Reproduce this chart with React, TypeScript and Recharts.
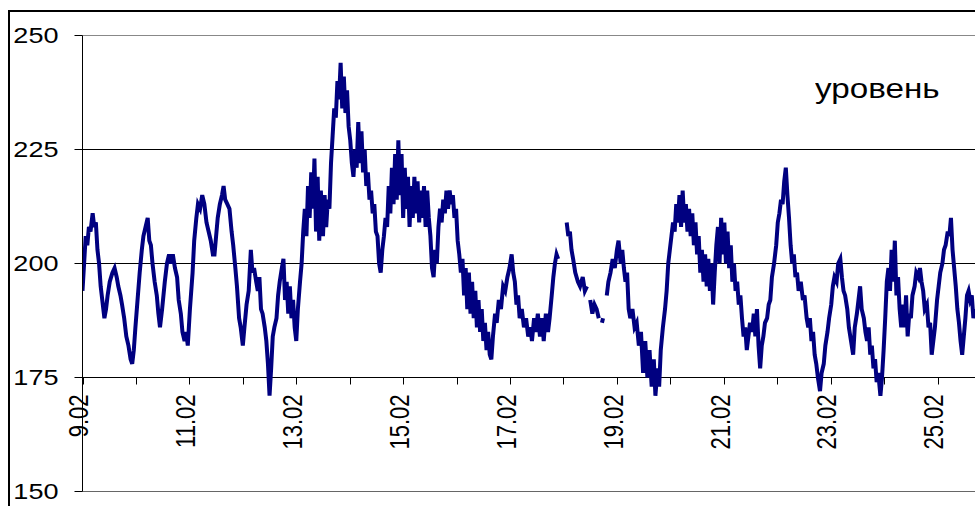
import React from 'react';
import { LineChart, Line, XAxis, YAxis, CartesianGrid, ReferenceLine, Legend } from 'recharts';

// time in days since 9.02 00:00
const days: number[] = [
  0.00, 0.03, 0.06, 0.09, 0.12, 0.15, 0.19, 0.22, 0.25, 0.28, 0.31, 0.34, 0.37, 0.41, 0.44, 0.47, 0.51, 0.56, 0.60, 0.64, 0.67, 0.71, 0.74, 0.78, 0.82, 0.86, 0.90, 0.93, 0.96, 0.99,
  1.03, 1.07, 1.11, 1.14, 1.18, 1.22, 1.25, 1.28, 1.31, 1.35, 1.39, 1.42, 1.45, 1.49, 1.54, 1.58, 1.62, 1.66, 1.69, 1.73, 1.77, 1.80, 1.84, 1.87, 1.91, 1.94, 1.97,
  2.01, 2.06, 2.09, 2.13, 2.16, 2.20, 2.24, 2.28, 2.32, 2.36, 2.40, 2.44, 2.47, 2.50, 2.53, 2.57, 2.61, 2.64, 2.67, 2.71, 2.75, 2.79, 2.82, 2.86, 2.89, 2.93, 2.96,
  3.00, 3.03, 3.07, 3.11, 3.15, 3.18, 3.21, 3.25, 3.28, 3.31, 3.34, 3.37, 3.41, 3.44, 3.47, 3.50, 3.53, 3.56, 3.59, 3.63, 3.66, 3.69, 3.73, 3.76, 3.79, 3.82, 3.85, 3.88, 3.91, 3.94, 3.97,
  4.00, 4.03, 4.07, 4.10, 4.13, 4.16, 4.19, 4.22, 4.25, 4.28, 4.31, 4.34, 4.37, 4.40, 4.43, 4.46, 4.50, 4.53, 4.56, 4.59, 4.62, 4.65, 4.68, 4.71, 4.74, 4.77, 4.80, 4.83, 4.86, 4.89, 4.92, 4.95, 4.98,
  5.01, 5.04, 5.07, 5.10, 5.13, 5.16, 5.19, 5.22, 5.25, 5.28, 5.31, 5.34, 5.37, 5.40, 5.43, 5.46, 5.49, 5.52, 5.55, 5.58, 5.61, 5.64, 5.67, 5.70, 5.73, 5.76, 5.79, 5.82, 5.85, 5.88, 5.91, 5.94, 5.97,
  6.00, 6.03, 6.06, 6.09, 6.12, 6.15, 6.18, 6.21, 6.24, 6.27, 6.30, 6.33, 6.36, 6.39, 6.42, 6.45, 6.48, 6.51, 6.54, 6.57, 6.60, 6.63, 6.66, 6.69, 6.72, 6.75, 6.78, 6.81, 6.84, 6.87, 6.90, 6.93, 6.96, 6.99,
  7.02, 7.05, 7.08, 7.11, 7.14, 7.17, 7.20, 7.23, 7.26, 7.29, 7.32, 7.35, 7.38, 7.41, 7.44, 7.47, 7.50, 7.53, 7.56, 7.59, 7.62, 7.65, 7.68, 7.72, 7.75, 7.79, 7.83, 7.87, 7.91, 7.95, 7.99,
  8.03, 8.06, 8.09, 8.12, 8.15, 8.18, 8.22, 8.26, 8.30, 8.34, 8.38, 8.41, 8.45, 8.48, 8.52, 8.56, 8.60, 8.63, 8.67, 8.71, 8.74, 8.78, 8.81, 8.84, 8.87, 8.90, 8.94,
  9.06, 9.09, 9.12, 9.15, 9.18, 9.22, 9.27, 9.31, 9.36, 9.40, 9.44, 9.47, 9.50, 9.54, 9.58, 9.62, 9.66, 9.69, 9.72, 9.74, 9.76, 9.81, 9.84, 9.88, 9.92, 9.96,
  10.00, 10.03, 10.07, 10.10, 10.13, 10.16, 10.19, 10.22, 10.25, 10.29, 10.33, 10.37, 10.41, 10.45, 10.49, 10.53, 10.57, 10.61, 10.65, 10.69, 10.72, 10.76, 10.79, 10.82, 10.86, 10.90, 10.93, 10.96, 10.99,
  11.02, 11.05, 11.08, 11.11, 11.14, 11.17, 11.20, 11.23, 11.26, 11.29, 11.32, 11.35, 11.38, 11.41, 11.44, 11.47, 11.50, 11.53, 11.56, 11.59, 11.62, 11.65, 11.68, 11.71, 11.74, 11.77, 11.80, 11.83, 11.86, 11.89, 11.92, 11.95, 11.98,
  12.01, 12.04, 12.07, 12.10, 12.13, 12.16, 12.19, 12.22, 12.25, 12.28, 12.31, 12.34, 12.37, 12.40, 12.43, 12.46, 12.49, 12.53, 12.56, 12.59, 12.62, 12.65, 12.68, 12.71, 12.74, 12.77, 12.81, 12.84, 12.87, 12.90, 12.94, 12.98,
  13.01, 13.04, 13.07, 13.10, 13.13, 13.16, 13.19, 13.22, 13.25, 13.28, 13.31, 13.34, 13.37, 13.40, 13.44, 13.48, 13.51, 13.55, 13.58, 13.61, 13.64, 13.67, 13.70, 13.73, 13.76, 13.80, 13.83, 13.87, 13.90, 13.94, 13.97,
  14.01, 14.04, 14.07, 14.11, 14.14, 14.18, 14.21, 14.24, 14.27, 14.31, 14.34, 14.38, 14.42, 14.45, 14.49, 14.52, 14.55, 14.58, 14.62, 14.65, 14.68, 14.71, 14.74, 14.77, 14.80, 14.83, 14.86, 14.89, 14.93, 14.96, 14.99,
  15.02, 15.05, 15.08, 15.11, 15.14, 15.17, 15.20, 15.23, 15.26, 15.29, 15.32, 15.35, 15.38, 15.41, 15.44, 15.47, 15.50, 15.53, 15.57, 15.60, 15.64, 15.67, 15.70, 15.73, 15.76, 15.80, 15.83, 15.86, 15.89, 15.92, 15.95, 15.99,
  16.02, 16.05, 16.09, 16.12, 16.15, 16.19, 16.22, 16.25, 16.28, 16.31, 16.34, 16.37, 16.40, 16.43, 16.46, 16.49, 16.52, 16.55, 16.58, 16.61, 16.64, 16.67, 16.70,
];

const level: (number | null)[] = [
  194, 200, 206, 204, 208, 207, 211, 208, 209, 203, 200, 195, 192, 188, 190, 193, 196, 198, 199, 197, 195, 193, 191, 188, 184, 182, 179, 178, 181, 186,
  192, 198, 203, 206, 208, 210, 205, 204, 200, 196, 193, 189, 186, 190, 196, 200, 202, 200, 202, 199, 197, 192, 189, 185, 183, 185, 182,
  190, 198, 205, 210, 213, 212, 215, 213, 209, 207, 205, 202, 202, 206, 210, 213, 215, 217, 214, 213, 212, 207, 204, 199, 195, 188, 186,
  182, 186, 191, 194, 203, 198, 199, 196, 194, 197, 190, 189, 186, 183, 178, 171, 177, 184, 186, 188, 193, 196, 199, 201, 192, 196, 189, 195, 188, 192, 186,
  183, 190, 196, 200, 207, 212, 206, 217, 210, 220, 212, 223, 207, 219, 205, 216, 206, 215, 208, 214, 212, 222, 228, 234, 232, 240, 236, 244, 234, 241, 233, 238, 230,
  227, 222, 219, 225, 221, 231, 222, 229, 220, 225, 217, 220, 214, 216, 211, 213, 207, 206, 200, 198, 203, 206, 210, 208, 217, 211, 221, 213, 224, 214, 227, 215, 224,
  210, 221, 212, 219, 208, 217, 210, 219, 211, 218, 209, 216, 210, 217, 208, 216, 210, 206, 199, 197, 203, 200, 208, 212, 209, 214, 211, 216, 212, 216, 213, 215, 210, 212,
  205, 202, 198, 201, 193, 199, 190, 198, 189, 196, 188, 194, 186, 192, 185, 190, 183, 187, 181, 185, 180, 179, 184, 189, 187, 192, 190, 195, 194, 197, 199,
  202, 198, 196, 191, 193, 188, 190, 186, 188, 184, 186, 183, 188, 185, 189, 184, 188, 183, 189, 185, 188, 193, 197, 200, 202, 201, null,
  209, 206, 207, 203, 201, 198, 196, 195, 197, 194, 195, null, 192, 189, 191, 190, 188, null, 187, 188, null, 193, 196, 198, 201, 199,
  203, 205, 200, 203, 199, 196, 198, 190, 188, 190, 186, 187, 182, 185, 176, 183, 175, 181, 173, 179, 171, 177, 173, 181, 186, 190, 194, 200, 203,
  206, 209, 207, 213, 209, 215, 208, 216, 209, 213, 207, 212, 206, 211, 204, 209, 202, 206, 198, 203, 196, 202, 195, 201, 194, 200, 191, 198, 204, 208, 200, 210, 202,
  209, 200, 207, 199, 204, 196, 200, 194, 196, 191, 193, 188, 184, 186, 181, 184, 187, 185, 189, 184, 190, 182, 177, 182, 184, 187, 188, 191, 192, 197, 200, 204,
  209, 211, 214, 213, 218, 221, 215, 210, 204, 200, 202, 197, 198, 194, 196, 192, 193, 188, 186, 188, 183, 185, 180, 178, 175, 172, 176, 178, 182, 185, 188,
  191, 195, 197, 196, 200, 201, 197, 194, 193, 190, 186, 183, 180, 186, 189, 192, 195, 190, 188, 185, 183, 186, 180, 182, 177, 179, 174, 176, 171, 175, 181,
  188, 196, 199, 194, 203, 196, 205, 193, 197, 190, 186, 191, 186, 193, 184, 189, 188, 193, 195, 198, 197, 199, 196, 194, 190, 191, 186, 187, 180, 183, 186, 192,
  195, 198, 200, 203, 204, 207, 206, 210, 203, 199, 195, 190, 187, 183, 180, 184, 188, 193, 194, 192, 193, 188, 190,
];

const yTicks = [150, 175, 200, 225, 250];
const gridValues = [175, 200, 225];
const dayTicks = [0, 1, 2, 3, 4, 5, 6, 7, 8, 9, 10, 11, 12, 13, 14, 15, 16];
const dayLabels = ['9.02', '', '11.02', '', '13.02', '', '15.02', '', '17.02', '', '19.02', '', '21.02', '', '23.02', '', '25.02'];
const seriesName = 'уровень';

const data = days.map((d, i) => ({ day: d, level: level[i] }));

const FONT = '"Liberation Sans", Arial, sans-serif';
const STRETCH = 1.23;
const AXIS_SHIFT = 114; // distance between plot bottom (150) and the category axis (175)

const XTick = (props: any) => {
  const { x, y, payload } = props;
  const idx = dayTicks.indexOf(payload.value);
  const label = idx >= 0 ? dayLabels[idx] : '';
  const axisY = y - AXIS_SHIFT;
  const cx = Math.round(x) + 0.5;
  return (
    <g>
      <line x1={cx} x2={cx} y1={axisY} y2={axisY + 7} stroke="#000" strokeWidth={1} />
      {label ? (
        <g transform={`translate(${x - 4},${axisY + 17}) scale(${STRETCH},1) rotate(-90)`}>
          <text x={0} y={0} dy="0.36em" textAnchor="end" fontFamily={FONT} fontSize={22} fill="#000">
            {label}
          </text>
        </g>
      ) : null}
    </g>
  );
};

const YTick = (props: any) => {
  const { x, y, payload } = props;
  return (
    <g transform={`translate(${x},${y}) scale(${STRETCH},1)`}>
      <text x={0} y={0} dy="0.36em" textAnchor="end" fontFamily={FONT} fontSize={22} fill="#000">
        {payload.value}
      </text>
    </g>
  );
};

const LegendText = () => (
  <div
    style={{
      fontFamily: FONT,
      fontSize: 27,
      lineHeight: '27px',
      color: '#000',
      transform: `scaleX(${STRETCH})`,
      transformOrigin: 'left top',
      whiteSpace: 'nowrap',
    }}
  >
    {seriesName}
  </div>
);

export default function App() {
  return (
    <div
      style={{
        position: 'absolute',
        left: 0,
        top: 0,
        width: 975,
        height: 506,
        overflow: 'hidden',
        background: '#fff',
      }}
    >
      <div
        style={{
          position: 'absolute',
          left: 8,
          top: 10,
          width: 1100,
          height: 700,
          borderLeft: '2px solid #000',
          borderTop: '2px solid #000',
        }}
      />
      <div style={{ position: 'absolute', left: 0, top: 0 }}>
        <LineChart
          width={975}
          height={506}
          data={data}
          margin={{ top: 35.5, right: 0, left: 0, bottom: 13.5 }}
        >
          <CartesianGrid horizontal={true} vertical={false} horizontalValues={gridValues} stroke="#000" strokeWidth={1} />
          <ReferenceLine y={250} stroke="#888" strokeWidth={1} />
          <ReferenceLine y={150} stroke="#666" strokeWidth={1} />
          <XAxis
            dataKey="day"
            type="number"
            domain={[0, 16.7]}
            allowDataOverflow={true}
            ticks={dayTicks}
            interval={0}
            axisLine={false}
            tickLine={false}
            tickSize={0}
            tickMargin={0}
            height={1}
            tick={<XTick />}
          />
          <YAxis
            type="number"
            domain={[150, 250]}
            ticks={yTicks}
            interval={0}
            width={82.5}
            tickSize={8}
            tickMargin={16}
            axisLine={{ stroke: '#000', strokeWidth: 1 }}
            tickLine={{ stroke: '#000', strokeWidth: 1 }}
            tick={<YTick />}
          />
          <Legend
            layout="horizontal"
            verticalAlign="middle"
            align="center"
            content={<LegendText />}
            wrapperStyle={{ position: 'absolute', left: 815, top: 76, width: 'auto', height: 'auto', margin: 0 }}
          />
          <Line
            type="linear"
            dataKey="level"
            name={seriesName}
            stroke="#000080"
            strokeWidth={4}
            strokeLinejoin="miter"
            dot={false}
            activeDot={false}
            connectNulls={false}
            isAnimationActive={false}
          />
        </LineChart>
      </div>
    </div>
  );
}
